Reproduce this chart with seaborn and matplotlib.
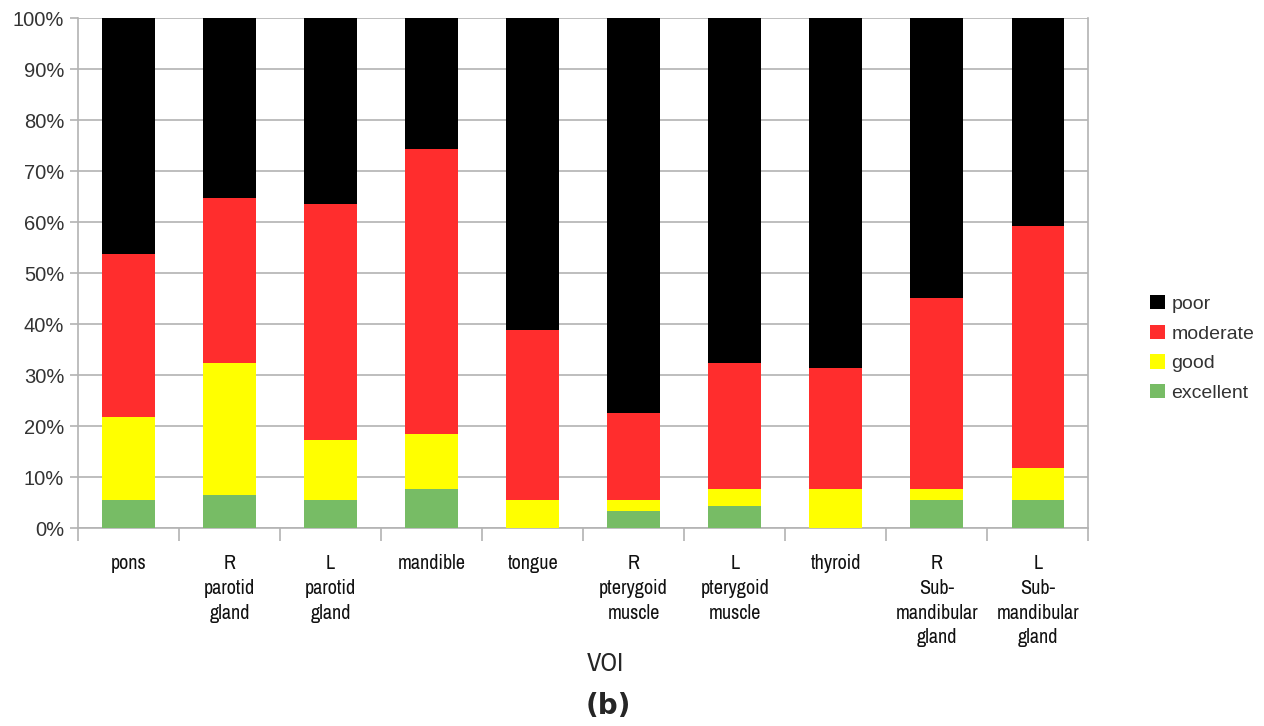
import numpy as np
import pandas as pd
import matplotlib
matplotlib.use("Agg")
import matplotlib.pyplot as plt
import seaborn as sns
from matplotlib.patches import Patch
from matplotlib import font_manager

voi = ["pons", "R\nparotid\ngland", "L\nparotid\ngland", "mandible", "tongue",
       "R\npterygoid\nmuscle", "L\npterygoid\nmuscle", "thyroid",
       "R\nSub-\nmandibular\ngland", "L\nSub-\nmandibular\ngland"]

# percentages per category
excellent = [5.5, 6.5, 5.5, 7.6, 0.0, 3.3, 4.3, 0.0, 5.5, 5.5]
good      = [16.3, 25.9, 11.8, 10.8, 5.5, 2.2, 3.3, 7.6, 2.1, 6.3]
moderate  = [31.9, 32.3, 46.2, 55.9, 33.3, 17.0, 24.8, 23.8, 37.5, 47.4]
poor      = [46.3, 35.3, 36.5, 25.7, 61.2, 77.5, 67.6, 68.6, 54.9, 40.8]

levels = ["poor", "moderate", "good", "excellent"]
colors = {"poor": "#000000", "moderate": "#ff2d2d", "good": "#ffff00", "excellent": "#77bc65"}

df = pd.DataFrame({"voi": voi, "excellent": excellent, "good": good,
                   "moderate": moderate, "poor": poor})
# cumulative tops, drawn from tallest to shortest so they overlap into a stack
cum = df[["excellent", "good", "moderate", "poor"]].cumsum(axis=1)

sns.set_style("white")
plt.rcParams["font.family"] = ["Liberation Sans", "DejaVu Sans"]

# look for a narrow font for the category labels (reference uses a Calibri-like face)
names = sorted({f.name for f in font_manager.fontManager.ttflist})
narrow = [n for n in names if "Narrow" in n or "Condensed" in n]
label_size = 14.5 if narrow else 11
label_family = narrow[:1] + ["DejaVu Sans"]

fig = plt.figure(figsize=(12.64, 7.26), dpi=100)
ax = fig.add_axes([0.0617, 0.2727, 0.7993, 0.7025])

for lev in levels:
    sns.barplot(x=df["voi"], y=cum[lev], color=colors[lev], width=0.52,
                saturation=1, ax=ax, zorder=3, linewidth=0)

ax.set_ylim(0, 100)
ax.set_xlim(-0.5, len(voi) - 0.5)
ax.set_yticks(np.arange(0, 101, 10))
ax.set_yticklabels([f"{v}%" for v in range(0, 101, 10)], fontsize=14.5, color="#333333")
ax.yaxis.grid(True, color="#b3b3b3", linewidth=1.2, zorder=0)
ax.set_axisbelow(True)

ax.set_xticks(range(len(voi)))
ax.set_xticklabels(voi, fontsize=label_size, family=label_family,
                   va="top", linespacing=1.37, color="#111111")
ax.set_xticks(np.arange(-0.5, len(voi), 1), minor=True)
ax.tick_params(axis="x", which="major", length=0, pad=19)
ax.tick_params(axis="x", which="minor", length=9, color="#b3b3b3", width=1.2, direction="out", bottom=True)
ax.tick_params(axis="y", length=6, color="#b3b3b3", width=1.2, left=True, pad=4)

for side in ["left", "right", "bottom"]:
    ax.spines[side].set_color("#b3b3b3")
    ax.spines[side].set_linewidth(1.2)
ax.spines["top"].set_visible(False)

ax.set_xlabel("")
ax.set_ylabel("")
fig.text(0.479, 0.086, "VOI", fontsize=19, ha="center", va="center",
         family=label_family)
fig.text(0.481, 0.027, "(b)", fontsize=20, fontweight="bold", ha="center", va="center",
         family="DejaVu Sans")

handles = [Patch(facecolor=colors[l], edgecolor="none") for l in levels]
fig.legend(handles, levels, loc="center left", bbox_to_anchor=(0.896, 0.52),
           frameon=False, fontsize=14, handlelength=0.75, handleheight=0.75,
           handletextpad=0.35, labelspacing=0.6, labelcolor="#333333")

fig.savefig("out.png", dpi=100)
